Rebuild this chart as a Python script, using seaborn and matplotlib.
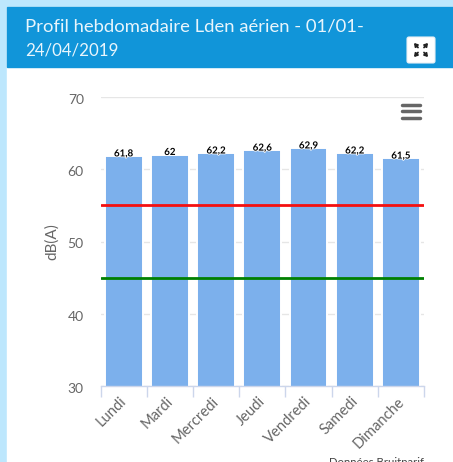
import matplotlib
matplotlib.use("Agg")
import matplotlib.pyplot as plt
from matplotlib.patches import Rectangle, FancyBboxPatch
from matplotlib.transforms import ScaledTranslation
import matplotlib.patheffects as pe
import seaborn as sns
import pandas as pd

days = ["Lundi", "Mardi", "Mercredi", "Jeudi", "Vendredi", "Samedi", "Dimanche"]
values = [61.8, 62, 62.2, 62.6, 62.9, 62.2, 61.5]
labels = ["61,8", "62", "62,2", "62,6", "62,9", "62,2", "61,5"]
limit_red = 55
limit_green = 45
yticks = [30, 40, 50, 60, 70]

W, H = 453, 462
sns.set_theme(style="white")
plt.rcParams['font.family'] = ['Lato', 'DejaVu Sans']
fig = plt.figure(figsize=(W / 100, H / 100), dpi=100, facecolor="white")

def fx(x): return x / W
def fy(y): return 1 - y / H

# page furniture
fig.patches.append(Rectangle((0, 0), 1, 1, transform=fig.transFigure, color="#bde7fd", zorder=-5))
fig.patches.append(Rectangle((fx(7), 0), 1, fy(7), transform=fig.transFigure, color="white", zorder=-4))
fig.patches.append(Rectangle((fx(7), fy(67)), 1, fy(7) - fy(67), transform=fig.transFigure, color="#1195d9", zorder=-3))
fig.text(fx(25), fy(26), "Profil hebdomadaire Lden aérien - 01/01-", color="#e8f5fc", fontsize=13.3, va="center", ha="left")
fig.text(fx(25), fy(50), "24/04/2019", color="#e8f5fc", fontsize=12.2, va="center", ha="left")

# expand button
ov = fig.add_axes([0, 0, 1, 1], zorder=5)
ov.set_xlim(0, W); ov.set_ylim(H, 0); ov.axis("off"); ov.patch.set_alpha(0)
ov.add_patch(FancyBboxPatch((407, 37), 28, 26, boxstyle="round,pad=0,rounding_size=2", fc="white", ec="#e8f0f5", lw=0.8))
for (x0, y0, x1, y1) in [(418, 47.5, 414, 43), (424, 47.5, 428, 43), (418, 52.5, 414, 57), (424, 52.5, 428, 57)]:
    ov.annotate("", xy=(x1, y1), xytext=(x0, y0),
                arrowprops=dict(arrowstyle="-|>,head_width=0.1,head_length=0.15", color="#222222", lw=1.3, shrinkA=0, shrinkB=0))
# hamburger menu
for y in (104.5, 111, 117.5):
    ov.plot([401.5, 419.5], [y, y], color="#666666", lw=2.5, solid_capstyle="round")

# chart
ax = fig.add_axes([fx(100.5), fy(386), fx(424 - 100.5), fy(97) - fy(386)])
df = pd.DataFrame({"day": days, "value": values})
sns.barplot(data=df, x="day", y="value", color="#7cb0ec", saturation=1, width=0.82,
            edgecolor="white", linewidth=1.4, ax=ax, zorder=2)
ax.set_xlim(-0.5, 6.5)
ax.set_ylim(30, 70)
ax.set_yticks(yticks)
ax.grid(axis="y", color="#e6e6e6", lw=1)
ax.set_axisbelow(True)
for s in ["top", "left", "right"]:
    ax.spines[s].set_visible(False)
ax.spines["bottom"].set_color("#ccd6eb")
ax.spines["bottom"].set_linewidth(1)
ax.set_xticks([i - 0.5 for i in range(8)], minor=True)
ax.tick_params(axis="x", which="minor", length=8, width=1, color="#ccd6eb", bottom=True)
ax.tick_params(axis="x", which="major", length=0, pad=6)
ax.tick_params(axis="y", length=0, pad=12, labelsize=10, labelcolor="#666666")
ax.set_xticks(range(7))
ax.set_xticklabels(days, rotation=45, ha="right", rotation_mode="anchor", fontsize=10.6, color="#666666")
yshift = ScaledTranslation(0, -2 / 100, fig.dpi_scale_trans)
for lab in ax.get_yticklabels():
    lab.set_transform(lab.get_transform() + yshift)
xshift = ScaledTranslation(-4 / 100, 0, fig.dpi_scale_trans)
for lab in ax.get_xticklabels():
    lab.set_transform(lab.get_transform() + xshift)
ax.set_xlabel("")
ax.set_ylabel("dB(A)", fontsize=11, color="#666666", labelpad=6)
ax.axhline(limit_red, color="#f51010", lw=2, zorder=4)
ax.axhline(limit_green, color="#008000", lw=2, zorder=4)
for i, (v, t) in enumerate(zip(values, labels)):
    ax.text(i, v - 0.3, t, ha="center", va="bottom", fontsize=7, fontweight="bold", color="black", zorder=6,
            path_effects=[pe.withStroke(linewidth=1.2, foreground="white")])

fig.text(fx(424), fy(462.5), "Données Bruitparif", fontsize=8.2, color="#444444", ha="right", va="center")
fig.savefig("out.png", dpi=100)
